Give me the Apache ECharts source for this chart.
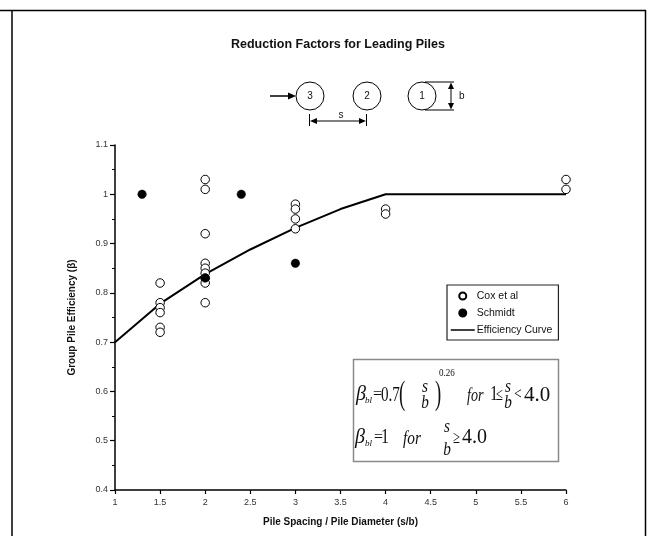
<!DOCTYPE html>
<html>
<head>
<meta charset="utf-8">
<script src="https://cdn.jsdelivr.net/npm/echarts@6/dist/echarts.min.js"></script>
<style>
html,body{margin:0;padding:0;background:#fff;}
#chart{width:648px;height:536px;}
</style>
</head>
<body>
<div id="chart"></div>
<script>
// ---- data ----
const titleText = 'Reduction Factors for Leading Piles';
const xName = 'Pile Spacing / Pile Diameter (s/b)';
const yName = 'Group Pile Efficiency (\u03B2)';
const seriesNames = ['Cox et al', 'Schmidt', 'Efficiency Curve'];

const coxX = [1.5, 1.5, 1.5, 1.5, 1.5, 1.5, 2, 2, 2, 2, 2, 2, 2, 2, 2, 3, 3, 3, 3, 4, 4, 6, 6];
const coxY = [0.82, 0.78, 0.77, 0.76, 0.73, 0.72, 1.03, 1.01, 0.92, 0.86, 0.85, 0.84, 0.83, 0.82, 0.78, 0.98, 0.97, 0.95, 0.93, 0.97, 0.96, 1.03, 1.01];
const schmidtX = [1.3, 2, 2.4, 3];
const schmidtY = [1.0, 0.83, 1.0, 0.86];
const curveX = [1, 1.5, 2, 2.5, 3, 3.5, 4, 6];
const curveY = [0.70, 0.778, 0.838, 0.888, 0.932, 0.970, 1.0, 1.0];

const xMin = 1, xMax = 6, xStep = 0.5;
const yMin = 0.4, yMax = 1.1, yStep = 0.1;

const pair = (xs, ys) => xs.map((x, i) => [x, ys[i]]);

const SANS = '"Liberation Sans", Arial, sans-serif';
const SERIF = '"Liberation Serif", "Times New Roman", serif';

function txt(text, x, y, size, opts) {
  opts = opts || {};
  const el = {
    type: 'text', x: x, y: y, silent: true,
    style: {
      text: text,
      font: (opts.italic ? 'italic ' : '') + (opts.bold ? 'bold ' : '') + size + 'px ' + (opts.family || SERIF),
      fill: opts.fill || '#111',
      textAlign: opts.align || 'left',
      textVerticalAlign: 'middle'
    }
  };
  if (opts.sx) el.scaleX = opts.sx;
  return el;
}
function line(x1, y1, x2, y2, w, c) {
  return { type: 'line', silent: true, shape: { x1: x1, y1: y1, x2: x2, y2: y2 }, style: { stroke: c || '#000', lineWidth: w || 1 } };
}
function tri(points) {
  return { type: 'polygon', silent: true, shape: { points: points }, style: { fill: '#000' } };
}
function circ(cx, cy, r) {
  return { type: 'circle', silent: true, shape: { cx: cx, cy: cy, r: r }, style: { fill: 'none', stroke: '#000', lineWidth: 1 } };
}

const graphics = [
  // outer frame
  line(0, 10.5, 646, 10.5, 1.5),
  line(12, 10, 12, 536, 1.5),
  line(645.5, 10, 645.5, 536, 1.5),
  // pile diagram
  line(270, 96, 290, 96, 1.5),
  tri([[296, 96], [288, 92.5], [288, 99.5]]),
  circ(310, 96, 14), txt('3', 310, 96, 10, { family: SANS, align: 'center' }),
  circ(367, 96, 14), txt('2', 367, 96, 10, { family: SANS, align: 'center' }),
  circ(422, 96, 14), txt('1', 422, 96, 10, { family: SANS, align: 'center' }),
  line(425, 82, 454, 82, 1), line(425, 110, 454, 110, 1),
  line(451, 86, 451, 106, 1),
  tri([[451, 82.5], [448, 89], [454, 89]]),
  tri([[451, 109.5], [448, 103], [454, 103]]),
  txt('b', 459, 96, 10, { family: SANS }),
  line(309.5, 114, 309.5, 126, 1), line(366.5, 114, 366.5, 126, 1),
  line(314, 121, 362, 121, 1),
  tri([[310, 121], [317, 118], [317, 124]]),
  tri([[366, 121], [359, 118], [359, 124]]),
  txt('s', 341, 115, 10, { family: SANS, align: 'center' }),
  // equation box
  { type: 'rect', silent: true, shape: { x: 353.5, y: 359.5, width: 205, height: 102 }, style: { fill: 'none', stroke: '#8a8a8a', lineWidth: 1.5 } },
  // line 1
  txt('\u03B2', 356, 395, 20, { italic: true }),
  txt('bl', 365, 401, 9, { italic: true }),
  txt('=', 373, 395, 16),
  txt('0.7', 381, 395, 21, { sx: 0.72 }),
  txt('(', 399, 395, 34, { sx: 0.55 }),
  txt('s', 425, 387, 18, { italic: true, align: 'center', sx: 0.85 }),
  txt('b', 425, 403, 18, { italic: true, align: 'center', sx: 0.85 }),
  txt(')', 435, 395, 34, { sx: 0.55 }),
  txt('0.26', 439, 373, 10, { sx: 0.9 }),
  txt('for', 467, 396, 18, { italic: true, sx: 0.78 }),
  txt('1', 490, 395, 20, { sx: 0.8 }),
  txt('\u2264', 496, 395, 18, { sx: 0.7 }),
  txt('s', 508, 387, 18, { italic: true, align: 'center', sx: 0.85 }),
  txt('b', 508, 403, 18, { italic: true, align: 'center', sx: 0.85 }),
  txt('<', 514, 395, 17, { sx: 0.8 }),
  txt('4.0', 524, 395, 21),
  // line 2
  txt('\u03B2', 355, 438, 20, { italic: true }),
  txt('bl', 365, 444, 9, { italic: true }),
  txt('=', 374, 438, 16),
  txt('1', 381, 438, 20, { sx: 0.8 }),
  txt('for', 403, 439, 18, { italic: true, sx: 0.85 }),
  txt('s', 447, 427, 18, { italic: true, align: 'center', sx: 0.85 }),
  txt('b', 447, 450, 18, { italic: true, align: 'center', sx: 0.85 }),
  txt('\u2265', 453, 438, 18, { sx: 0.7 }),
  txt('4.0', 462, 438, 20)
];

const chart = echarts.init(document.getElementById('chart'), null, { renderer: 'canvas' });
chart.setOption({
  backgroundColor: '#fff',
  animation: false,
  title: {
    text: titleText,
    left: 231, top: 38, padding: 0,
    textStyle: { fontFamily: SANS, fontSize: 12.5, fontWeight: 'bold', color: '#111' }
  },
  grid: { left: 115, right: 82, top: 145, bottom: 46, containLabel: false },
  legend: {
    orient: 'vertical',
    left: 447, top: 285,
    padding: [5, 6, 4, 3],
    itemWidth: 24, itemHeight: 7, itemGap: 5,
    borderColor: '#222', borderWidth: 1.2, borderRadius: 0,
    backgroundColor: '#fff',
    textStyle: { fontFamily: SANS, fontSize: 10.5, color: '#111', lineHeight: 12, padding: [0, 0, 0, -3] },
    data: [
      { name: seriesNames[0] },
      { name: seriesNames[1] },
      { name: seriesNames[2], itemStyle: { opacity: 0 }, lineStyle: { width: 1.5 } }
    ]
  },
  xAxis: {
    type: 'value', min: xMin, max: xMax, interval: xStep,
    name: xName, nameLocation: 'middle', nameGap: 27,
    nameTextStyle: { fontFamily: SANS, fontSize: 10, fontWeight: 'bold', color: '#111' },
    axisLine: { lineStyle: { color: '#000', width: 1.5 } },
    axisTick: { show: true, length: 4, lineStyle: { color: '#000', width: 1.2 } },
    axisLabel: { fontFamily: SANS, fontSize: 9, color: '#333', margin: 8 },
    splitLine: { show: false }
  },
  yAxis: {
    type: 'value', min: yMin, max: yMax, interval: yStep,
    name: yName, nameLocation: 'middle', nameGap: 38, nameRotate: 90,
    nameTextStyle: { fontFamily: SANS, fontSize: 10, fontWeight: 'bold', color: '#111' },
    axisLine: { lineStyle: { color: '#000', width: 1.5 } },
    axisTick: { show: true, length: 5, lineStyle: { color: '#000', width: 1.2 } },
    minorTick: { show: true, splitNumber: 2, length: 3, lineStyle: { color: '#000', width: 1 } },
    axisLabel: { fontFamily: SANS, fontSize: 9, color: '#333', margin: 7 },
    splitLine: { show: false }
  },
  series: [
    {
      name: seriesNames[0], type: 'scatter', symbol: 'circle', symbolSize: 8.5,
      itemStyle: { color: '#fff', borderColor: '#000', borderWidth: 1, opacity: 1 },
      data: pair(coxX, coxY), z: 3
    },
    {
      name: seriesNames[1], type: 'scatter', symbol: 'circle', symbolSize: 8.5,
      itemStyle: { color: '#000', borderColor: '#000', borderWidth: 0.5, opacity: 1 },
      data: pair(schmidtX, schmidtY), z: 4
    },
    {
      name: seriesNames[2], type: 'line', symbol: 'none', smooth: false,
      lineStyle: { color: '#000', width: 2 },
      itemStyle: { color: '#000' },
      data: pair(curveX, curveY), z: 2
    }
  ],
  graphic: graphics
});
</script>
</body>
</html>
